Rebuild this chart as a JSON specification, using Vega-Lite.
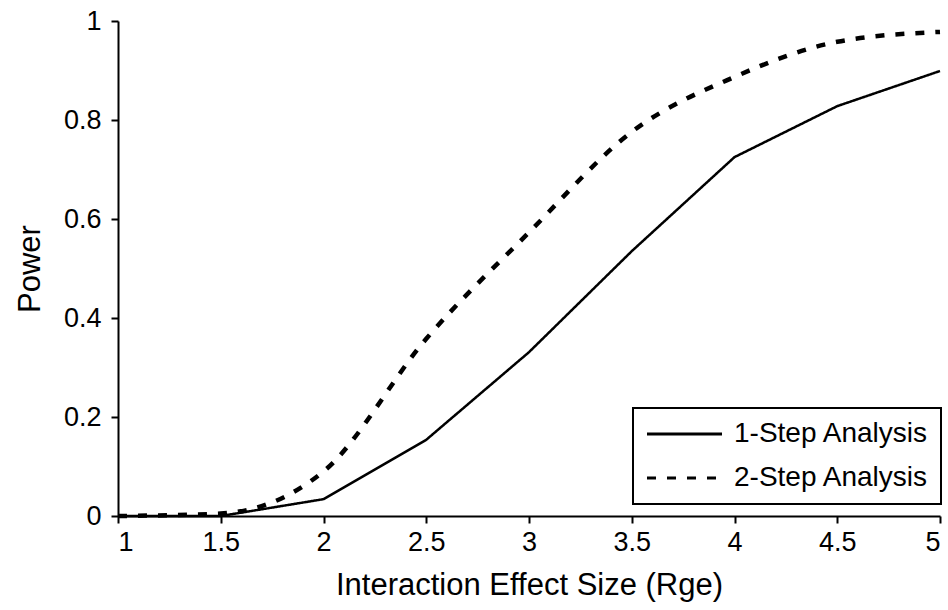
{
  "$schema": "https://vega.github.io/schema/vega-lite/v6.json",
  "width": 822,
  "height": 495,
  "autosize": {"type": "none"},
  "padding": {"left": 118, "top": 21, "right": 8, "bottom": 94},
  "background": "white",
  "config": {
    "font": "Liberation Sans",
    "view": {"stroke": null},
    "axis": {
      "grid": false,
      "domainColor": "black",
      "domainWidth": 2,
      "tickColor": "black",
      "tickWidth": 2,
      "tickSize": 7,
      "labelColor": "black",
      "labelFontSize": 27,
      "labelFont": "Liberation Sans",
      "titleFont": "Liberation Sans",
      "titleFontSize": 31,
      "titleFontWeight": "normal",
      "titleColor": "black"
    },
    "legend": {
      "labelFont": "Liberation Sans",
      "labelFontSize": 28,
      "labelColor": "black",
      "strokeWidth": 2
    }
  },
  "data": {
    "values": [
      {"x": 1, "power": 0, "series": "1-Step Analysis"},
      {"x": 1.5, "power": 0, "series": "1-Step Analysis"},
      {"x": 2, "power": 0.034, "series": "1-Step Analysis"},
      {"x": 2.5, "power": 0.154, "series": "1-Step Analysis"},
      {"x": 3, "power": 0.331, "series": "1-Step Analysis"},
      {"x": 3.5, "power": 0.535, "series": "1-Step Analysis"},
      {"x": 4, "power": 0.725, "series": "1-Step Analysis"},
      {"x": 4.5, "power": 0.828, "series": "1-Step Analysis"},
      {"x": 5, "power": 0.899, "series": "1-Step Analysis"},
      {"x": 1, "power": 0, "series": "2-Step Analysis"},
      {"x": 1.5, "power": 0.005, "series": "2-Step Analysis"},
      {"x": 2, "power": 0.09, "series": "2-Step Analysis"},
      {"x": 2.5, "power": 0.358, "series": "2-Step Analysis"},
      {"x": 3, "power": 0.573, "series": "2-Step Analysis"},
      {"x": 3.5, "power": 0.776, "series": "2-Step Analysis"},
      {"x": 4, "power": 0.887, "series": "2-Step Analysis"},
      {"x": 4.5, "power": 0.958, "series": "2-Step Analysis"},
      {"x": 5, "power": 0.978, "series": "2-Step Analysis"}
    ]
  },
  "encoding": {
    "x": {
      "field": "x",
      "type": "quantitative",
      "scale": {"domain": [1, 5], "nice": false, "zero": false},
      "axis": {
        "values": [1, 1.5, 2, 2.5, 3, 3.5, 4, 4.5, 5],
        "format": "~g",
        "title": "Interaction Effect Size (Rge)",
        "labelPadding": 6,
        "titlePadding": 15
      }
    },
    "y": {
      "field": "power",
      "type": "quantitative",
      "scale": {"domain": [0, 1], "nice": false},
      "axis": {
        "values": [0, 0.2, 0.4, 0.6, 0.8, 1],
        "format": "~g",
        "title": "Power",
        "labelPadding": 10,
        "titlePadding": 17
      }
    },
    "strokeDash": {
      "field": "series",
      "type": "nominal",
      "scale": {"domain": ["1-Step Analysis", "2-Step Analysis"], "range": [[1, 0], [9, 11]]},
      "legend": {
        "title": null,
        "orient": "none",
        "legendX": 515,
        "legendY": 387,
        "symbolType": "M-1.6,0L8.4,0",
        "symbolSize": 225,
        "symbolStrokeColor": "black",
        "symbolFillColor": "transparent",
        "symbolStrokeWidth": 3,
        "strokeColor": "black",
        "padding": 12,
        "labelOffset": 61,
        "labelLimit": 400,
        "rowPadding": 16
      }
    }
  },
  "layer": [
    {
      "transform": [{"filter": "datum.series === '1-Step Analysis'"}],
      "mark": {"type": "line", "color": "black", "strokeWidth": 2.5, "interpolate": "linear"}
    },
    {
      "transform": [{"filter": "datum.series === '2-Step Analysis'"}],
      "mark": {"type": "line", "color": "black", "strokeWidth": 4.5, "interpolate": "monotone"}
    }
  ]
}
